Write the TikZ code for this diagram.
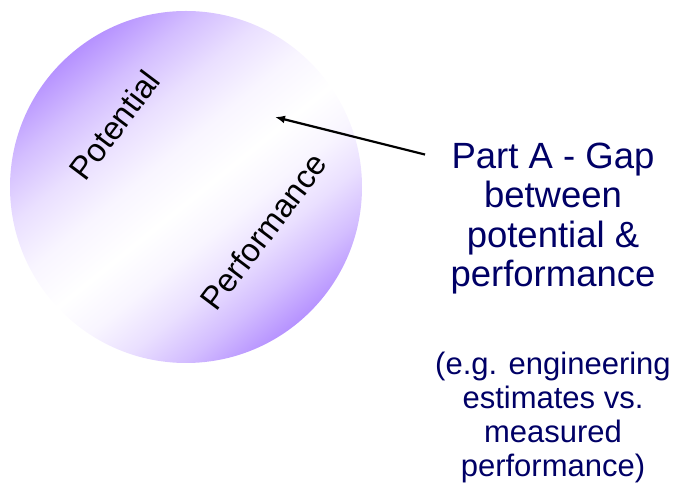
\documentclass[tikz,border=0pt]{standalone}
\usepackage{fontspec}
\setmainfont{Liberation Sans}
\usetikzlibrary{calc}
\usetikzlibrary{arrows.meta}
\definecolor{potpurple}{RGB}{182,146,255}
\definecolor{gapblue}{RGB}{0,0,102}
\colorlet{purplea}{potpurple!60!white}
\colorlet{purpleb}{potpurple!29!white}
\colorlet{purplec}{potpurple!9!white}
% lower right half is a bit shorter than the upper left half
\pgfdeclareverticalshading{gapshading}{100bp}{color(0bp)=(potpurple); color(28.3bp)=(potpurple);
  color(33.75bp)=(purplea); color(39.2bp)=(purpleb); color(44.6bp)=(purplec); color(50bp)=(white);
  color(56.25bp)=(purplec); color(62.5bp)=(purpleb); color(68.75bp)=(purplea);
  color(75bp)=(potpurple); color(100bp)=(potpurple)}
\tikzstyle{gapshade}=[shading=gapshading,shading angle=39]
\tikzstyle{circletext}=[font=\fontsize{32.5}{38}\selectfont,rotate=53]
\tikzstyle{gaptext}=[font=\fontsize{36.5}{40}\selectfont,text=gapblue,anchor=base]
\tikzstyle{exampletext}=[font=\fontsize{31}{34}\selectfont,text=gapblue,anchor=base]
\tikzstyle{pointer}=[line width=2.2pt,-{Latex[length=10pt,width=8pt]}]

\begin{document}
\begin{tikzpicture}[x=1pt,y=1pt]
\useasboundingbox (0,0) rectangle (678,484);
\pgfmathsetmacro{\radius}{176}
\pgfmathsetmacro{\half}{188.6}
\coordinate (centre) at (186,297);
\coordinate (bandcentre) at (194,287); % whitest line runs a little below the centre
\begin{scope}
  \clip (centre) circle (\radius);
  \shade[gapshade] ($(bandcentre)-(\half,\half)$) rectangle ($(bandcentre)+(\half,\half)$);
\end{scope}
\node[circletext] (potential) at (114.5,359) {Potential};
\node[circletext] (performance) at (263.5,252.5) {Performance};
% right hand side, one node per line
\foreach \txt [count=\i] in {{Part A - Gap},{between},{potential \&},{performance}}
  \node[gaptext] (gap\i) at (553,{355-39.5*\i}) {\txt};
\foreach \txt [count=\i] in {{(e.g. engineering},{estimates vs.},{measured},{performance)}}
  \node[exampletext] (example\i) at (553,{143-34*\i}) {\txt};
\coordinate (gaptip) at (275,367);
\draw[pointer] ([xshift=-23pt,yshift=5pt]gap1.west) -- (gaptip);
\end{tikzpicture}
\end{document}
